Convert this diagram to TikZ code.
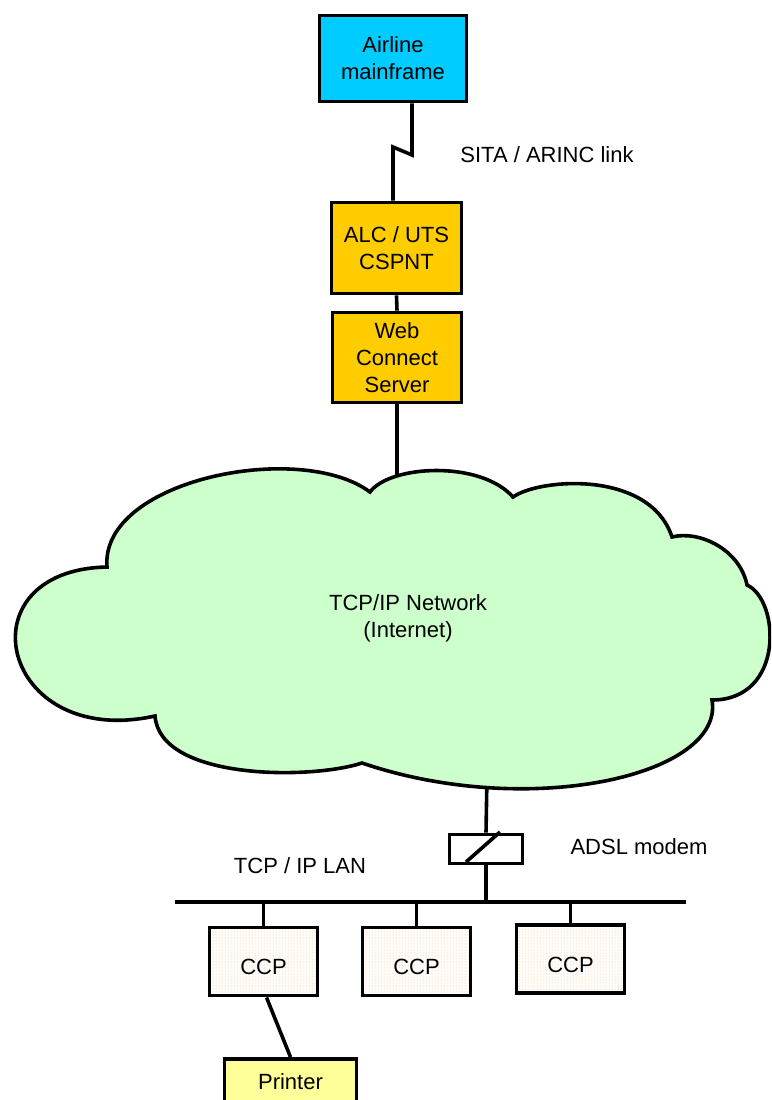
\documentclass[tikz,border=0pt]{standalone}
\usepackage{fontspec}
\setmainfont{Liberation Sans}
\usetikzlibrary{calc,patterns}
\definecolor{mfblue}{HTML}{00CCFF}
\definecolor{gold}{HTML}{FFCC00}
\definecolor{cloudgreen}{HTML}{CCFFCC}
\definecolor{printyellow}{HTML}{FFFF99}
\definecolor{dotorange}{HTML}{FFB060}
\begin{document}
\begin{tikzpicture}[x=1pt,y=-1pt,line width=3.6pt,
  txt/.style={font=\fontsize{22}{27}\selectfont,align=center,inner sep=0pt},
  box/.style={txt,draw=black,line width=3.8pt},
  ccpbox/.style={box,minimum width=108pt,minimum height=68pt,
    preaction={fill=white},pattern=dots,pattern color=dotorange},
  wire/.style={draw=black,line width=3.6pt},
  cloudshape/.style={draw=black,line width=3.6pt,fill=cloudgreen,line join=miter}]
\useasboundingbox (0,0) rectangle (771,1100);
\clip (0,0) rectangle (771,1100);

% nodes
\node[box,fill=mfblue,minimum width=147pt,minimum height=86pt] (main) at (393,58.5) {Airline\\mainframe};
\node[box,fill=gold,minimum width=130pt,minimum height=91pt] (alc) at (396.5,248) {ALC / UTS\\CSPNT};
\node[box,fill=gold,minimum width=129pt,minimum height=90pt] (web) at (397,357.5) {Web\\Connect\\Server};
\node[txt] (sita) at (547,155) {SITA / ARINC link};
\node[box,fill=white,minimum width=73pt,minimum height=29pt] (modem) at (486,849) {};
\node[txt] (adsl) at (639,847) {ADSL modem};
\node[txt] (lanlbl) at (300,866) {TCP / IP LAN};
\node[ccpbox] (ccp1) at (263.5,961.5) {\smash{\raisebox{-13pt}{CCP}}};
\node[ccpbox] (ccp2) at (416.5,961.5) {\smash{\raisebox{-13pt}{CCP}}};
\node[ccpbox] (ccp3) at (570.5,959) {\smash{\raisebox{-13pt}{CCP}}};
\node[box,fill=printyellow,minimum width=132pt,minimum height=46pt] (printer) at (290.5,1082) {Printer};

% coordinates
\coordinate (lk1) at (412,155);
\coordinate (lk2) at (393,147);
\coordinate (cloudN) at (397,492);
\coordinate (cloudS) at (487,775);
\coordinate (lanL) at (175,902);
\coordinate (lanR) at (686,902);

% connectors
\draw[wire] (main.south -| lk1) -- (lk1) -- (lk2) -- (alc.north -| lk2);
\draw[wire] (alc.south) -- (web.north);
\draw[wire] (web.south) -- (cloudN);
\draw[wire] (cloudS) -- (modem.north);
\draw[wire] (modem.south) -- (modem.south |- lanL);
\draw[wire,line width=4.2pt] (lanL) -- (lanR);
\draw[wire] (ccp1.north |- lanL) -- (ccp1.north);
\draw[wire] (ccp2.north |- lanL) -- (ccp2.north);
\draw[wire] (ccp3.north |- lanL) -- (ccp3.north);
\draw[wire] ($(ccp1.south)+(3,0)$) -- (printer.north);
\draw[wire] ($(modem.center)+(-20,13)$) -- ($(modem.center)+(14,-17)$);

% cloud
\path[cloudshape] (107,567) .. controls (100,480) and (300,440) .. (370,492)
 .. controls (390,465) and (480,460) .. (513,497)
 .. controls (540,478) and (650,470) .. (672,537)
 .. controls (700,530) and (740,550) .. (747,585)
 .. controls (780,600) and (785,700) .. (712,700)
 .. controls (725,775) and (530,820) .. (362,763)
 .. controls (310,780) and (160,780) .. (155,716)
 .. controls (0,750) and (-40,570) .. cycle;
\node[txt] (cloudtxt) at (408,618) {TCP/IP Network\\(Internet)};
\end{tikzpicture}
\end{document}
